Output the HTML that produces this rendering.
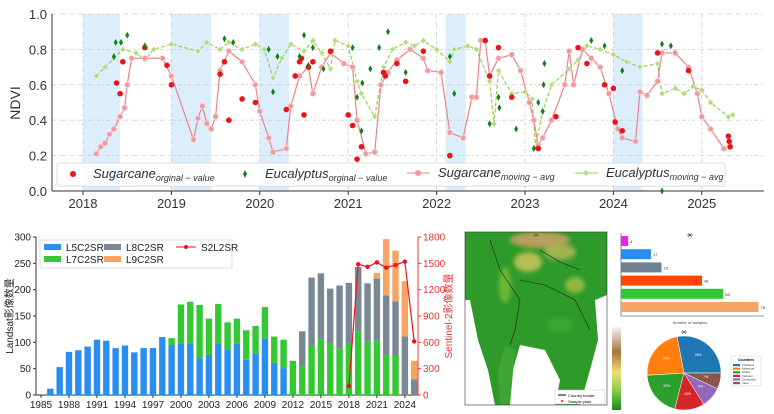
<!DOCTYPE html>
<html><head><meta charset="utf-8"><style>
html,body{margin:0;padding:0;background:#fff;}
svg{display:block;font-family:"Liberation Sans","Noto Sans CJK SC",sans-serif;}
</style></head><body>
<svg id="s" width="774" height="414" viewBox="0 0 774 414" xmlns="http://www.w3.org/2000/svg">
<defs><filter id="bl" x="-50%" y="-50%" width="200%" height="200%"><feGaussianBlur stdDeviation="2.5"/></filter>
<clipPath id="mapclip"><rect x="465" y="232" width="142" height="173"/></clipPath></defs>
<g id="top"></g>
<g id="bot"></g>
<g id="map" clip-path="url(#mapclip)">
<rect x="465" y="232" width="142" height="173" fill="#2e9a2a"/>
<ellipse cx="540" cy="240" rx="30" ry="8" fill="#c8a060" opacity="0.9" filter="url(#bl)"/>
<ellipse cx="528" cy="262" rx="14" ry="10" fill="#d8c760" opacity="0.8" filter="url(#bl)"/>
<ellipse cx="560" cy="252" rx="16" ry="8" fill="#d0c060" opacity="0.7" filter="url(#bl)"/>
<ellipse cx="575" cy="285" rx="10" ry="8" fill="#b9c84a" opacity="0.7" filter="url(#bl)"/>
<ellipse cx="505" cy="285" rx="6" ry="18" fill="#7fbf3a" opacity="0.8" filter="url(#bl)"/>
<ellipse cx="560" cy="325" rx="14" ry="8" fill="#3fa830" opacity="0.8" filter="url(#bl)"/>
<polygon points="465,300 470,300 478,340 488,370 495,405 465,405" fill="#fff"/>
<polygon points="595,300 607,295 607,405 580,405 590,370 598,340" fill="#fff"/>
<polygon points="520,345 545,350 560,380 555,405 505,405 510,380" fill="#fff"/>
<polygon points="505,345 515,350 510,405 500,405 498,370" fill="#3ea534"/>
<polyline points="490,240 500,270 520,300 515,330 510,345" fill="none" stroke="#222" stroke-width="0.6"/>
<polyline points="520,280 545,285 575,300 590,330" fill="none" stroke="#222" stroke-width="0.6"/>
<polyline points="540,250 560,262 580,270" fill="none" stroke="#222" stroke-width="0.6"/>
</g>
<rect x="465" y="232" width="142" height="173" fill="none" stroke="#333" stroke-width="0.6"/>
<text x="536" y="236" font-size="4" text-anchor="middle" fill="#333">(a)</text>
<g><rect x="555" y="390" width="50" height="14" fill="#fff" stroke="#ccc" stroke-width="0.5"/>
<line x1="558" y1="395" x2="566" y2="395" stroke="#000"/><text x="568" y="397" font-size="4">Country border</text>
<circle cx="562" cy="401" r="1" fill="red"/><text x="568" y="403" font-size="4">Sample plots</text></g>
<defs><linearGradient id="cb" x1="0" y1="1" x2="0" y2="0"><stop offset="0" stop-color="#1a8a1a"/><stop offset="0.25" stop-color="#8fd04a"/><stop offset="0.45" stop-color="#f0e070"/><stop offset="0.7" stop-color="#a8743a"/><stop offset="1" stop-color="#f5f5f5"/></linearGradient></defs>
<rect x="612" y="327" width="9" height="83" fill="url(#cb)"/>
<g id="hb"></g>
<g id="pie"></g>
</svg>
<script>
const NS="http://www.w3.org/2000/svg";
function mk(p,tag,a,txt){const e=document.createElementNS(NS,tag);for(const k in a)e.setAttribute(k,a[k]);if(txt!==undefined)e.textContent=txt;p.appendChild(e);return e;}

/* ---------- top NDVI chart data ---------- */
const sugarAvgT=[2018.15,2018.2,2018.25,2018.3,2018.35,2018.42,2018.47,2018.5,2018.55,2018.7,2018.9,2019.0,2019.25,2019.3,2019.35,2019.4,2019.45,2019.5,2019.55,2019.65,2019.8,2019.95,2020.0,2020.1,2020.15,2020.3,2020.35,2020.45,2020.55,2020.6,2020.7,2020.8,2020.95,2021.05,2021.1,2021.2,2021.3,2021.37,2021.45,2021.55,2021.7,2021.85,2021.9,2022.05,2022.15,2022.3,2022.4,2022.45,2022.5,2022.55,2022.6,2022.7,2022.85,2022.95,2023.05,2023.1,2023.15,2023.2,2023.3,2023.45,2023.5,2023.55,2023.65,2023.75,2023.85,2023.95,2024.05,2024.1,2024.25,2024.3,2024.38,2024.5,2024.55,2024.7,2024.85,2024.95,2025.0,2025.1,2025.25,2025.32];
const sugarAvgV=[0.21,0.25,0.27,0.32,0.35,0.42,0.47,0.6,0.75,0.75,0.75,0.65,0.29,0.41,0.48,0.38,0.35,0.42,0.68,0.79,0.73,0.6,0.45,0.3,0.22,0.24,0.48,0.65,0.7,0.55,0.7,0.78,0.72,0.7,0.4,0.21,0.22,0.6,0.67,0.74,0.8,0.75,0.68,0.67,0.33,0.3,0.53,0.53,0.85,0.85,0.65,0.75,0.77,0.68,0.5,0.4,0.26,0.3,0.4,0.6,0.79,0.6,0.8,0.75,0.7,0.55,0.35,0.3,0.28,0.56,0.54,0.62,0.78,0.78,0.7,0.55,0.42,0.35,0.24,0.25];
const eucAvgT=[2018.15,2018.25,2018.35,2018.45,2018.6,2018.7,2018.8,2019.0,2019.3,2019.4,2019.55,2019.65,2019.8,2019.95,2020.05,2020.15,2020.25,2020.35,2020.5,2020.6,2020.7,2020.8,2020.85,2021.0,2021.1,2021.15,2021.3,2021.4,2021.5,2021.65,2021.75,2021.85,2022.0,2022.15,2022.2,2022.35,2022.45,2022.6,2022.65,2022.7,2022.85,2023.0,2023.08,2023.12,2023.2,2023.3,2023.5,2023.6,2023.7,2023.85,2024.0,2024.15,2024.3,2024.5,2024.55,2024.7,2024.8,2024.9,2025.0,2025.1,2025.3,2025.35];
const eucAvgV=[0.65,0.7,0.75,0.8,0.78,0.74,0.8,0.83,0.79,0.84,0.8,0.84,0.8,0.83,0.8,0.64,0.75,0.83,0.79,0.85,0.78,0.69,0.85,0.82,0.62,0.55,0.42,0.7,0.8,0.84,0.82,0.85,0.8,0.73,0.8,0.82,0.8,0.62,0.38,0.68,0.55,0.56,0.52,0.25,0.45,0.6,0.69,0.74,0.82,0.8,0.77,0.73,0.7,0.72,0.55,0.58,0.55,0.59,0.57,0.5,0.42,0.43];
const sugarOrigT=[2018.45,2018.38,2018.42,2018.7,2018.95,2019.0,2019.55,2019.6,2019.65,2019.8,2019.95,2020.3,2020.4,2020.45,2020.47,2020.5,2020.55,2020.6,2020.8,2021.0,2021.05,2021.1,2021.15,2021.4,2021.42,2021.55,2021.65,2021.85,2022.15,2022.55,2022.6,2022.7,2022.85,2023.15,2023.35,2023.6,2023.7,2023.9,2024.0,2024.02,2024.1,2024.5,2024.85,2025.3,2025.31,2025.32];
const sugarOrigV=[0.73,0.61,0.55,0.81,0.71,0.6,0.66,0.73,0.4,0.52,0.5,0.46,0.65,0.73,0.75,0.43,0.7,0.73,0.79,0.43,0.37,0.18,0.25,0.67,0.65,0.72,0.62,0.79,0.2,0.85,0.65,0.81,0.53,0.24,0.42,0.81,0.72,0.6,0.58,0.39,0.34,0.78,0.68,0.31,0.28,0.25];
const eucOrigT=[2018.35,2018.37,2018.43,2018.5,2018.7,2019.6,2019.7,2020.1,2020.15,2020.2,2020.45,2020.5,2020.55,2020.6,2020.72,2021.05,2021.1,2021.15,2021.16,2021.25,2021.35,2021.45,2021.65,2022.15,2022.2,2022.6,2022.7,2022.71,2022.9,2023.1,2023.15,2023.2,2023.21,2023.22,2023.75,2023.9,2024.1,2024.55,2024.65,2024.55];
const eucOrigV=[0.76,0.84,0.84,0.88,0.82,0.86,0.84,0.8,0.56,0.76,0.76,0.88,0.71,0.81,0.69,0.81,0.53,0.34,0.61,0.69,0.81,0.9,0.67,0.76,0.55,0.38,0.53,0.47,0.35,0.24,0.5,0.45,0.6,0.72,0.85,0.82,0.68,0.83,0.82,0.0];
const yearTicks=[2018,2019,2020,2021,2022,2023,2024,2025];
const ndviTicks=[0.0,0.2,0.4,0.6,0.8,1.0];
const bandStart=[2018.0,2019.0,2020.0,2022.1,2024.0];
const bandEnd=[2018.42,2019.45,2020.33,2022.33,2024.33];

const T=document.getElementById('top');
const tx=t=>83+(t-2018)*88.4, ty=v=>191-v*177;
bandStart.forEach((b,i)=>{const r=mk(T,'rect',{x:tx(b),y:ty(1),width:tx(bandEnd[i])-tx(b),height:ty(0)-ty(1),fill:'#dceefb'});

});
ndviTicks.forEach(v=>{mk(T,'line',{x1:52,x2:764,y1:ty(v),y2:ty(v),stroke:'#ccc','stroke-dasharray':'4,2,1,2','stroke-width':0.8});
const t=mk(T,'text',{x:47,y:ty(v)+5,'font-size':13,'text-anchor':'end',fill:'#333'},v.toFixed(1));

});
yearTicks.forEach(y=>{mk(T,'line',{x1:tx(y),x2:tx(y),y1:ty(1),y2:ty(0),stroke:'#ccc','stroke-dasharray':'4,2,1,2','stroke-width':0.8});
mk(T,'line',{x1:tx(y),x2:tx(y),y1:191,y2:195,stroke:'#333'});
const t=mk(T,'text',{x:tx(y),y:208,'font-size':13,'text-anchor':'middle',fill:'#333'},y);

});
mk(T,'line',{x1:52,x2:52,y1:14,y2:191,stroke:'#333'});
mk(T,'line',{x1:52,x2:764,y1:191,y2:191,stroke:'#333'});
const yl=mk(T,'text',{x:20,y:103,'font-size':14,'text-anchor':'middle',transform:'rotate(-90 20 103)',fill:'#333'},'NDVI');


function line(g,ts,vs,col,dash,name){const p=mk(g,'polyline',{points:ts.map((t,i)=>tx(t)+','+ty(vs[i])).join(' '),fill:'none',stroke:col,'stroke-width':1.2,'stroke-dasharray':dash});

}
line(T,eucAvgT,eucAvgV,'#9acd5a','4,2','eucalyptus-moving-avg-line');
line(T,sugarAvgT,sugarAvgV,'#e8848a','','sugarcane-moving-avg-line');
eucAvgT.forEach((t,i)=>{const x=tx(t),y=ty(eucAvgV[i]);const d=mk(T,'path',{d:`M${x} ${y-3}L${x+3} ${y}L${x} ${y+3}L${x-3} ${y}Z`,fill:'#b3dc7c',stroke:'#fff','stroke-width':0.5});

});
sugarAvgT.forEach((t,i)=>{const c=mk(T,'circle',{cx:tx(t),cy:ty(sugarAvgV[i]),r:2.8,fill:'#ee9a9c',stroke:'#fbdada','stroke-width':0.8});

});
sugarOrigT.forEach((t,i)=>{const c=mk(T,'circle',{cx:tx(t),cy:ty(sugarOrigV[i]),r:2.8,fill:'#e8141a'});

});
eucOrigT.forEach((t,i)=>{const x=tx(t),y=ty(eucOrigV[i]);const d=mk(T,'path',{d:`M${x} ${y-3.5}L${x+2} ${y}L${x} ${y+3.5}L${x-2} ${y}Z`,fill:'#13801c'});

});
const L=mk(T,'g',{});
mk(L,'rect',{x:57,y:163,width:668,height:23,rx:3,fill:'#fff','fill-opacity':0.85,stroke:'#ddd'});
mk(L,'circle',{cx:73,cy:174,r:3,fill:'#e8141a'});
mk(L,'text',{x:93,y:178,'font-size':13,'font-style':'italic',fill:'#333'}).innerHTML='Sugarcane<tspan font-size="9" dy="3">orginal − value</tspan>';
mk(L,'path',{d:'M245 170L247 174L245 178L243 174Z',fill:'#13801c'});
mk(L,'text',{x:265,y:178,'font-size':13,'font-style':'italic',fill:'#333'}).innerHTML='Eucalyptus<tspan font-size="9" dy="3">orginal − value</tspan>';
mk(L,'line',{x1:407,x2:430,y1:173,y2:173,stroke:'#e8848a'});mk(L,'circle',{cx:418,cy:173,r:3,fill:'#ee9a9c'});
mk(L,'text',{x:438,y:177,'font-size':13,'font-style':'italic',fill:'#333'}).innerHTML='Sugarcane<tspan font-size="9" dy="3">moving − avg</tspan>';
mk(L,'line',{x1:575,x2:598,y1:173,y2:173,stroke:'#9acd5a'});mk(L,'path',{d:'M586 170L589 173L586 176L583 173Z',fill:'#b3dc7c'});
mk(L,'text',{x:606,y:177,'font-size':13,'font-style':'italic',fill:'#333'}).innerHTML='Eucalyptus<tspan font-size="9" dy="3">moving − avg</tspan>';

/* ---------- bottom-left bar chart data ---------- */
const barYears=[1986,1987,1988,1989,1990,1991,1992,1993,1994,1995,1996,1997,1998,1999,2000,2001,2002,2003,2004,2005,2006,2007,2008,2009,2010,2011,2012,2013,2014,2015,2016,2017,2018,2019,2020,2021,2022,2023,2024,2025];
const l5=[12,53,82,85,92,105,103,89,94,81,89,89,110,95,97,97,70,76,98,87,97,67,79,107,61,51,0,0,0,0,0,0,0,0,0,0,0,0,0,0];
const l7=[0,0,0,0,0,0,0,0,0,0,0,0,0,13,75,80,101,69,75,51,48,56,52,60,50,54,65,55,94,106,97,89,97,120,101,104,76,75,0,0];
const l8=[0,0,0,0,0,0,0,0,0,0,0,0,0,0,0,0,0,0,0,0,0,0,0,0,0,0,0,66,129,125,105,119,116,123,111,117,113,103,111,30];
const l9=[0,0,0,0,0,0,0,0,0,0,0,0,0,0,0,0,0,0,0,0,0,0,0,0,0,0,0,0,0,0,0,0,0,0,0,11,107,96,105,35];
const s2Years=[2018,2019,2020,2021,2022,2023,2024,2025];
const s2=[100,1490,1460,1510,1450,1480,1520,610];
const leftTicks=[0,50,100,150,200,250,300];
const rightTicks=[0,300,600,900,1200,1500,1800];
const xYearTicks=[1985,1988,1991,1994,1997,2000,2003,2006,2009,2012,2015,2018,2021,2024];

const B=document.getElementById('bot');
const bx=y=>41+(y-1985)*9.33, by=v=>395-v*(158/300), bry=v=>395-v*(158/1800);
mk(B,'line',{x1:36,x2:36,y1:237,y2:395,stroke:'#333'});
mk(B,'line',{x1:36,x2:418,y1:395,y2:395,stroke:'#333'});
mk(B,'line',{x1:418,x2:418,y1:237,y2:395,stroke:'#e33'});
leftTicks.forEach(v=>{mk(B,'line',{x1:33,x2:36,y1:by(v),y2:by(v),stroke:'#333'});
const t=mk(B,'text',{x:31,y:by(v)+3.5,'font-size':10,'text-anchor':'end',fill:'#222'},v);

});
rightTicks.forEach(v=>{mk(B,'line',{x1:418,x2:421,y1:bry(v),y2:bry(v),stroke:'#e33'});
const t=mk(B,'text',{x:423,y:bry(v)+3.5,'font-size':10,fill:'#e33'},v);

});
xYearTicks.forEach(y=>{mk(B,'line',{x1:bx(y),x2:bx(y),y1:395,y2:398,stroke:'#333'});
const t=mk(B,'text',{x:bx(y),y:408,'font-size':10,'text-anchor':'middle',fill:'#222'},y);

});
const lt=mk(B,'text',{x:13,y:316,'font-size':10,'text-anchor':'middle',transform:'rotate(-90 13 316)',fill:'#222'},'Landsat影像数量');

const rt=mk(B,'text',{x:452,y:316,'font-size':10,'text-anchor':'middle',transform:'rotate(-90 452 316)',fill:'#e33'},'Sentinel-2影像数量');

const cols=['#2a8ef0','#34c934','#7a8896','#f4a464'];const names=['l5','l7','l8','l9'];
barYears.forEach((y,i)=>{let base=0;[l5,l7,l8,l9].forEach((arr,k)=>{const v=arr[i];if(!v)return;
const r=mk(B,'rect',{x:bx(y)-3.2,y:by(base+v),width:6.4,height:by(base)-by(base+v),fill:cols[k]});


base+=v;});});
mk(B,'polyline',{points:s2Years.map((y,i)=>bx(y)+','+bry(s2[i])).join(' '),fill:'none',stroke:'#e8141a','stroke-width':1.2});
s2Years.forEach((y,i)=>{const c=mk(B,'circle',{cx:bx(y),cy:bry(s2[i]),r:2.2,fill:'#e8141a'});

});
const BL=mk(B,'g',{});
mk(BL,'rect',{x:40,y:240,width:192,height:28,fill:'#fff',stroke:'#ddd'});
[['L5C2SR',cols[0],44,244],['L7C2SR',cols[1],44,256],['L8C2SR',cols[2],104,244],['L9C2SR',cols[3],104,256]].forEach(a=>{mk(BL,'rect',{x:a[2],y:a[3],width:17,height:6,fill:a[1]});mk(BL,'text',{x:a[2]+22,y:a[3]+7,'font-size':10,fill:'#222'},a[0]);});
mk(BL,'line',{x1:176,x2:196,y1:247,y2:247,stroke:'#e8141a'});mk(BL,'circle',{cx:186,cy:247,r:2,fill:'#e8141a'});
mk(BL,'text',{x:201,y:251,'font-size':10,fill:'#222'},'S2L2SR');

/* ---------- horizontal bar chart (b) ---------- */
const hbLabels=['C','R','S','D','A','L'];
const hbValues=[4,17,23,46,58,78];
const hbColors=['#ee22ee','#2a8ef0','#708090','#ff4500','#34c934','#f4a464'];
const H=document.getElementById('hb');
const hx=v=>621+v*(141/80), hy=i=>241+i*13.2;
mk(H,'line',{x1:621,x2:621,y1:233,y2:316,stroke:'#333','stroke-width':0.6});
mk(H,'line',{x1:621,x2:764,y1:316,y2:316,stroke:'#333','stroke-width':0.6});
hbValues.forEach((v,i)=>{const r=mk(H,'rect',{x:621,y:hy(i)-5,width:hx(v)-621,height:10,fill:hbColors[i]});


mk(H,'text',{x:hx(v)+2,y:hy(i)+2,'font-size':4,fill:'#333'},v);});
mk(H,'text',{x:690,y:236,'font-size':4,'font-weight':'bold','text-anchor':'middle'},'(b)');
mk(H,'text',{x:690,y:324,'font-size':4,'text-anchor':'middle',fill:'#444'},'Number of samples');

/* ---------- pie chart (c) ---------- */
const pieLabels=['Thailand','Myanmar','China','Vietnam','Cambodia','Laos'];
const pieValues=[28,23,20,13,9,7];
const pieColors=['#1f77b4','#ff7f0e','#2ca02c','#d62728','#9467bd','#8c564b'];
const P=document.getElementById('pie');const cx=684,cy=373,R=37;
const tot=pieValues.reduce((a,b)=>a+b,0);let a0=0;
pieValues.forEach((v,i)=>{const a1=a0+v/tot*2*Math.PI;
const x0=cx+R*Math.cos(a0),y0=cy-R*Math.sin(a0),x1=cx+R*Math.cos(a1),y1=cy-R*Math.sin(a1);
const p=mk(P,'path',{d:`M${cx} ${cy}L${x0} ${y0}A${R} ${R} 0 ${a1-a0>Math.PI?1:0} 0 ${x1} ${y1}Z`,fill:pieColors[i],stroke:'#fff','stroke-width':0.5});


const am=(a0+a1)/2;mk(P,'text',{x:cx+R*0.6*Math.cos(am),y:cy-R*0.6*Math.sin(am),'font-size':3.5,fill:'#fff','text-anchor':'middle'},v+'%');
a0=a1;});
mk(P,'text',{x:684,y:333,'font-size':4,'font-weight':'bold','text-anchor':'middle'},'(c)');
const PL=mk(P,'g',{});
mk(PL,'rect',{x:731,y:356,width:30,height:30,fill:'#fff',stroke:'#ccc','stroke-width':0.5});
mk(PL,'text',{x:746,y:361,'font-size':3.5,'text-anchor':'middle','font-weight':'bold'},'Countries');
pieLabels.forEach((n,i)=>{mk(PL,'rect',{x:733,y:364+i*3.6,width:7,height:2.2,fill:pieColors[i]});mk(PL,'text',{x:742,y:366+i*3.6,'font-size':3,fill:'#333'},n);});
</script>
</body></html>
